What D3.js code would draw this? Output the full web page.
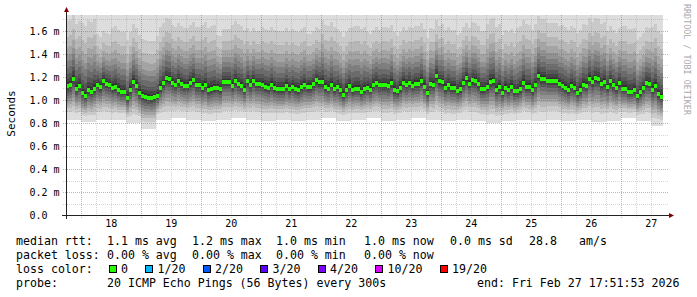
<!DOCTYPE html>
<html>
<head>
<meta charset="utf-8">
<script src="https://cdn.jsdelivr.net/npm/d3@7"></script>
<style>
body { margin: 0; background: #fff; }
text { font-family: "DejaVu Sans Mono", monospace; }
</style>
</head>
<body>
<svg id="chart" width="697" height="297"></svg>
<script>

// median rtt (ms), one value per 72 min step
var medianMs = [
  1.119, 1.130, 1.183, 1.098, 1.122, 1.061, 1.035, 1.087, 1.072, 1.098,
  1.130, 1.110, 1.163, 1.139, 1.130, 1.104, 1.117, 1.087, 1.070, 1.070,
  1.020, 1.087, 1.157, 1.122, 1.063, 1.037, 1.029, 1.020, 1.017, 1.023,
  1.035, 1.107, 1.145, 1.187, 1.180, 1.148, 1.133, 1.163, 1.139, 1.122,
  1.122, 1.150, 1.171, 1.128, 1.128, 1.107, 1.128, 1.084, 1.098, 1.107,
  1.107, 1.093, 1.157, 1.157, 1.157, 1.124, 1.163, 1.137, 1.122, 1.087,
  1.163, 1.128, 1.165, 1.137, 1.137, 1.130, 1.116, 1.107, 1.133, 1.107,
  1.093, 1.093, 1.093, 1.122, 1.096, 1.116, 1.098, 1.087, 1.110, 1.133,
  1.116, 1.116, 1.139, 1.171, 1.154, 1.154, 1.110, 1.098, 1.130, 1.093,
  1.110, 1.084, 1.043, 1.087, 1.119, 1.087, 1.098, 1.098, 1.070, 1.093,
  1.107, 1.087, 1.130, 1.148, 1.128, 1.128, 1.128, 1.119, 1.148, 1.087,
  1.076, 1.107, 1.150, 1.128, 1.148, 1.122, 1.139, 1.139, 1.165, 1.116,
  1.058, 1.139, 1.133, 1.209, 1.163, 1.154, 1.104, 1.128, 1.104, 1.104,
  1.078, 1.096, 1.150, 1.189, 1.142, 1.171, 1.165, 1.137, 1.093, 1.093,
  1.113, 1.157, 1.165, 1.087, 1.113, 1.063, 1.104, 1.084, 1.113, 1.076,
  1.076, 1.096, 1.150, 1.113, 1.110, 1.084, 1.133, 1.209, 1.183, 1.183,
  1.168, 1.168, 1.168, 1.168, 1.139, 1.124, 1.107, 1.087, 1.122, 1.104,
  1.058, 1.087, 1.133, 1.124, 1.185, 1.157, 1.189, 1.180, 1.139, 1.157,
  1.113, 1.163, 1.128, 1.102, 1.145, 1.098, 1.098, 1.070, 1.070, 1.084,
  1.035, 1.067, 1.102, 1.148, 1.139, 1.090, 1.119, 1.052, 1.029
];

// fastest ping (ms), one value per 6 h
var minMs = [
  0.83, 0.81, 0.83, 0.83, 0.80, 0.75, 0.83, 0.84,
  0.83, 0.82, 0.83, 0.84, 0.83, 0.82, 0.83, 0.82,
  0.83, 0.84, 0.82, 0.83, 0.84, 0.82, 0.83, 0.84,
  0.83, 0.82, 0.83, 0.82, 0.80, 0.82, 0.83, 0.82,
  0.83, 0.82, 0.83, 0.81, 0.82, 0.84, 0.82, 0.77
];

// 16th of 20 pings minus median (ms), one value per 6 h
var upperSpread = [
  0.27, 0.29, 0.21, 0.25, 0.24, 0.235, 0.25, 0.24,
  0.24, 0.26, 0.22, 0.25, 0.22, 0.24, 0.24, 0.24,
  0.22, 0.26, 0.24, 0.26, 0.23, 0.24, 0.23, 0.24,
  0.23, 0.24, 0.23, 0.24, 0.26, 0.24, 0.26, 0.25,
  0.24, 0.25, 0.25, 0.25, 0.23, 0.26, 0.23, 0.26
];

var yTicks = [0, 0.2, 0.4, 0.6, 0.8, 1.0, 1.2, 1.4, 1.6];
var yLabels = ["0.0", "0.2 m", "0.4 m", "0.6 m", "0.8 m", "1.0 m", "1.2 m", "1.4 m", "1.6 m"];

var rttStats = ["1.1 ms avg", "1.2 ms max", "1.0 ms min", "1.0 ms now", "0.0 ms sd", "28.8", "am/s"];
var lossStats = ["0.00 % avg", "0.00 % max", "0.00 % min", "0.00 % now"];
var lossLabels = ["0", "1/20", "2/20", "3/20", "4/20", "10/20", "19/20"];
var lossColors = ["#26ff00", "#00b8ff", "#0059ff", "#5e00ff", "#7e00ff", "#dd00ff", "#ff0000"];
var probeText = "20 ICMP Echo Pings (56 Bytes) every 300s";
var endText = "end: Fri Feb 27 17:51:53 2026";


var svg = d3.select("#chart");
var pL = 66, pR = 666, pT = 15, pB = 215;

var end = new Date(Date.UTC(2026, 1, 27, 17, 51, 53));
var start = new Date(end.getTime() - 10 * 86400e3);
var step = 4320e3;

var x = d3.scaleUtc().domain([start, end]).range([pL, pR]);
var y = d3.scaleLinear().domain([0, 200 / 115]).range([pB, pT]);

svg.append("defs").append("clipPath").attr("id", "clip")
  .append("rect").attr("x", pL).attr("y", pT).attr("width", pR - pL).attr("height", pB - pT);

// smoke: 20 sorted pings, band k spans ping k .. ping 21-k
var lowFrac = [1.0, 0.78, 0.66, 0.56, 0.47, 0.375, 0.28, 0.19, 0.12, 0.06];
var highFrac = [0.13, 0.25, 0.4, 0.6, 0.8, 1.0, 1.27, 1.6, 2.1, 3.5];

var bands = [];
medianMs.forEach(function (m, i) {
  var b = Math.floor(i / 5);
  var p = lowFrac.map(function (f) { return m - f * (m - minMs[b]); })
    .concat(highFrac.map(function (f) { return m + f * upperSpread[b]; }));
  for (var k = 0; k < 10; k++) {
    var g = Math.floor(190 / 10 * (9 - k)) + 50;
    bands.push({ t0: new Date(start.getTime() + i * step), t1: new Date(start.getTime() + (i + 1) * step),
      lo: p[k], hi: p[19 - k], color: d3.rgb(g, g, g).formatHex() });
  }
});

svg.append("g").attr("clip-path", "url(#clip)").attr("shape-rendering", "crispEdges")
  .selectAll("rect").data(bands).enter().append("rect")
  .attr("x", function (d) { return x(d.t0); })
  .attr("width", function (d) { return x(d.t1) - x(d.t0); })
  .attr("y", function (d) { return y(d.hi); })
  .attr("height", function (d) { return y(d.lo) - y(d.hi); })
  .attr("fill", function (d) { return d.color; });

// median marks
svg.append("g").attr("shape-rendering", "crispEdges")
  .selectAll("rect").data(medianMs).enter().append("rect")
  .attr("x", function (d, i) { return x(new Date(start.getTime() + i * step)); })
  .attr("width", 3)
  .attr("y", function (d) { return Math.round(y(d)) - 2; })
  .attr("height", 4)
  .attr("fill", lossColors[0]);

// grid
var grid = svg.append("g").attr("stroke-dasharray", "1,1").attr("fill", "none");
var minorY = [0.1, 0.3, 0.5, 0.7, 0.9, 1.1, 1.3, 1.5, 1.7];
grid.selectAll(".hmin").data(minorY).enter().append("line")
  .attr("x1", pL - 3).attr("x2", pR + 3)
  .attr("y1", function (d) { return Math.round(y(d)) + 0.5; })
  .attr("y2", function (d) { return Math.round(y(d)) + 0.5; })
  .attr("stroke", "rgba(140,140,140,0.35)");
grid.selectAll(".hmaj").data(yTicks.slice(1)).enter().append("line")
  .attr("x1", pL - 3).attr("x2", pR + 3)
  .attr("y1", function (d) { return Math.round(y(d)) + 0.5; })
  .attr("y2", function (d) { return Math.round(y(d)) + 0.5; })
  .attr("stroke", "rgba(200,60,60,0.45)");

var days = d3.utcDay.range(start, end);
var quarters = d3.utcHour.every(6).range(start, end).filter(function (d) { return d.getUTCHours() !== 0; });
grid.selectAll(".vmin").data(quarters).enter().append("line")
  .attr("x1", function (d) { return Math.floor(x(d)) + 0.5; })
  .attr("x2", function (d) { return Math.floor(x(d)) + 0.5; })
  .attr("y1", pT).attr("y2", pB + 3)
  .attr("stroke", "rgba(140,140,140,0.35)");
grid.selectAll(".vmaj").data(days).enter().append("line")
  .attr("x1", function (d) { return Math.floor(x(d)) + 0.5; })
  .attr("x2", function (d) { return Math.floor(x(d)) + 0.5; })
  .attr("y1", pT).attr("y2", pB + 3)
  .attr("stroke", "rgba(200,60,60,0.45)");

// axes
svg.append("line").attr("x1", pL - 4).attr("x2", pR + 4).attr("y1", pB + 0.5).attr("y2", pB + 0.5)
  .attr("stroke", "#222");
svg.append("line").attr("x1", pL + 0.5).attr("x2", pL + 0.5).attr("y1", pB + 4).attr("y2", pT - 4)
  .attr("stroke", "#222");
svg.append("path").attr("d", "M" + (pR + 3) + "," + (pB - 2) + "L" + (pR + 8) + "," + (pB + 0.5) + "L" + (pR + 3) + "," + (pB + 3) + "Z")
  .attr("fill", "#7f0000");
svg.append("path").attr("d", "M" + (pL - 2) + "," + (pT - 3) + "L" + (pL + 0.5) + "," + (pT - 8) + "L" + (pL + 3) + "," + (pT - 3) + "Z")
  .attr("fill", "#7f0000");

// tick labels
svg.append("g").selectAll("text").data(yTicks).enter().append("text")
  .attr("x", 29.5).attr("y", function (d) { return Math.round(y(d)) + 4; })
  .attr("font-size", "10px").attr("fill", "#000")
  .text(function (d, i) { return yLabels[i]; });

var noons = d3.utcDay.range(d3.utcDay.offset(start, -1), end)
  .map(function (d) { return d3.utcHour.offset(d, 12); })
  .filter(function (d) { return d > start && d < end; });
svg.append("g").selectAll("text").data(noons).enter().append("text")
  .attr("x", function (d) { return x(d); }).attr("y", 227)
  .attr("text-anchor", "middle").attr("font-size", "10px").attr("fill", "#000")
  .text(d3.utcFormat("%d"));

svg.append("text").attr("transform", "translate(15,113.5) rotate(-90)")
  .attr("text-anchor", "middle").attr("font-size", "11px").attr("fill", "#000")
  .text("Seconds");

svg.append("text").attr("transform", "translate(684,4) rotate(90)")
  .attr("font-size", "8.4px").attr("fill", "#aaa")
  .text("RRDTOOL / TOBI OETIKER");

// legend
var fs = "11.6px", cw = 7;
var statCols = [107, 192, 276, 364, 450, 529, 579];
function row(label, yy) {
  svg.append("text").attr("x", 16).attr("y", yy).attr("font-size", fs).text(label);
}
row("median rtt:", 245);
rttStats.forEach(function (s, i) {
  svg.append("text").attr("x", statCols[i]).attr("y", 245).attr("font-size", fs).text(s);
});
row("packet loss:", 259);
lossStats.forEach(function (s, i) {
  svg.append("text").attr("x", statCols[i]).attr("y", 259).attr("font-size", fs).text(s);
});
row("loss color:", 273);
var bx = 108.5;
lossLabels.forEach(function (s, i) {
  svg.append("rect").attr("x", bx + 0.5).attr("y", 265.5).attr("width", 7).attr("height", 7)
    .attr("fill", lossColors[i]).attr("stroke", "#000").attr("shape-rendering", "crispEdges");
  svg.append("text").attr("x", bx + 12.5).attr("y", 273).attr("font-size", fs).text(s);
  bx = bx + 12.5 + s.length * cw + 17;
});
row("probe:", 287);
svg.append("text").attr("x", 107).attr("y", 287).attr("font-size", fs).text(probeText);
svg.append("text").attr("x", 477).attr("y", 287).attr("font-size", fs).text(endText);

</script>
</body>
</html>
